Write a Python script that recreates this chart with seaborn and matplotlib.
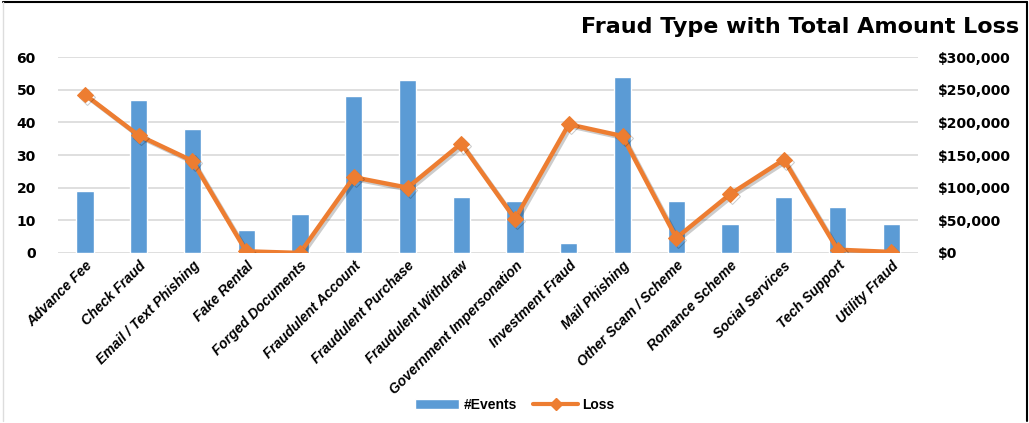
import numpy as np
import pandas as pd
import matplotlib
matplotlib.use("Agg")
import matplotlib.pyplot as plt
import matplotlib.patheffects as pe
from matplotlib.lines import Line2D
from matplotlib.patches import Patch
from matplotlib.ticker import FuncFormatter
import seaborn as sns

# Daten
fraud_types = ["Advance Fee", "Check Fraud", "Email / Text Phishing", "Fake Rental",
               "Forged Documents", "Fraudulent Account", "Fraudulent Purchase",
               "Fraudulent Withdraw", "Government Impersonation", "Investment Fraud",
               "Mail Phishing", "Other Scam / Scheme", "Romance Scheme",
               "Social Services", "Tech Support", "Utility Fraud"]
events = [19, 47, 38, 7, 12, 48, 53, 17, 16, 3, 54, 16, 9, 17, 14, 9]
loss = [242500, 180000, 141000, 2500, 0, 116000, 100000, 167500, 52000,
        197000, 179000, 23000, 90000, 143000, 5000, 1500]

BLUE = "#5B9BD5"
ORANGE = "#ED7D31"

df = pd.DataFrame({"Type": fraud_types, "Events": events, "Loss": loss})

sns.set_style("white")
plt.rcParams["font.family"] = ["DejaVu Sans"]
plt.rcParams["text.color"] = "black"
plt.rcParams["xtick.color"] = "black"
plt.rcParams["ytick.color"] = "black"

fig = plt.figure(figsize=(10.29, 4.23), dpi=100)
ax = fig.add_axes([0.0564, 0.402, 0.836, 0.463])

# Balken: Anzahl Events
sns.barplot(data=df, x="Type", y="Events", color=BLUE, width=0.32,
            saturation=1, ax=ax, zorder=2)
ax.set_ylim(0, 60)
ax.set_yticks(range(0, 61, 10))
ax.yaxis.grid(True, color="#D9D9D9", linewidth=1.2, zorder=0)
ax.set_axisbelow(True)
ax.set_xlim(-0.5, len(fraud_types) - 0.5)
ax.set_xlabel("")
ax.set_ylabel("")

# Linie: Verlust
ax2 = ax.twinx()
sns.lineplot(data=df, x="Type", y="Loss", color=ORANGE, linewidth=3.2,
             marker="D", markersize=8, markeredgecolor=ORANGE, sort=False,
             ax=ax2,
             path_effects=[pe.SimpleLineShadow(offset=(1.5, -1.5), alpha=0.2,
                                               shadow_color="black"),
                           pe.Normal()])
ax2.set_ylim(0, 300000)
ax2.set_yticks(range(0, 300001, 50000))
ax2.yaxis.set_major_formatter(FuncFormatter(lambda v, p: f"${int(v):,}"))
ax2.set_xlim(-0.5, len(fraud_types) - 0.5)
ax2.set_xlabel("")
ax2.set_ylabel("")
ax2.grid(False)

for a in (ax, ax2):
    for s in a.spines.values():
        s.set_visible(False)
    a.tick_params(axis="both", length=0)

for lbl in ax.get_yticklabels() + ax2.get_yticklabels():
    lbl.set_fontweight("bold")
    lbl.set_fontsize(10)
ax2.tick_params(axis="y", pad=14)
ax.tick_params(axis="y", pad=16)

ax.set_xticks(range(len(fraud_types)))
ax.set_xticklabels(fraud_types, rotation=45, ha="right", rotation_mode="anchor",
                   fontsize=10, fontweight="bold", fontstyle="italic",
                   family=["Liberation Sans", "DejaVu Sans"])
ax.tick_params(axis="x", pad=4)

fig.text(0.99, 0.935, "Fraud Type with Total Amount Loss", ha="right",
         va="center", fontsize=16, fontweight="bold", color="black")

handles = [Patch(facecolor=BLUE, label="#Events"),
           Line2D([0], [0], color=ORANGE, linewidth=3, marker="D",
                  markersize=6, label="Loss")]
fig.legend(handles=handles, loc="center", bbox_to_anchor=(0.5, 0.043),
           ncol=2, frameon=False, handlelength=3.2, columnspacing=1.2,
           handletextpad=0.3,
           prop={"family": ["Liberation Sans", "DejaVu Sans"], "weight": "bold",
                 "size": 10})

# Rahmen
fig.add_artist(Line2D([0.003, 0.998], [0.995, 0.995], color="black", linewidth=1.5))
fig.add_artist(Line2D([0.998, 0.998], [0.005, 0.995], color="black", linewidth=1.5))
fig.add_artist(Line2D([0.003, 0.003], [0.005, 0.995], color="#DDDDDD", linewidth=1))

fig.savefig("out.png", dpi=100)
